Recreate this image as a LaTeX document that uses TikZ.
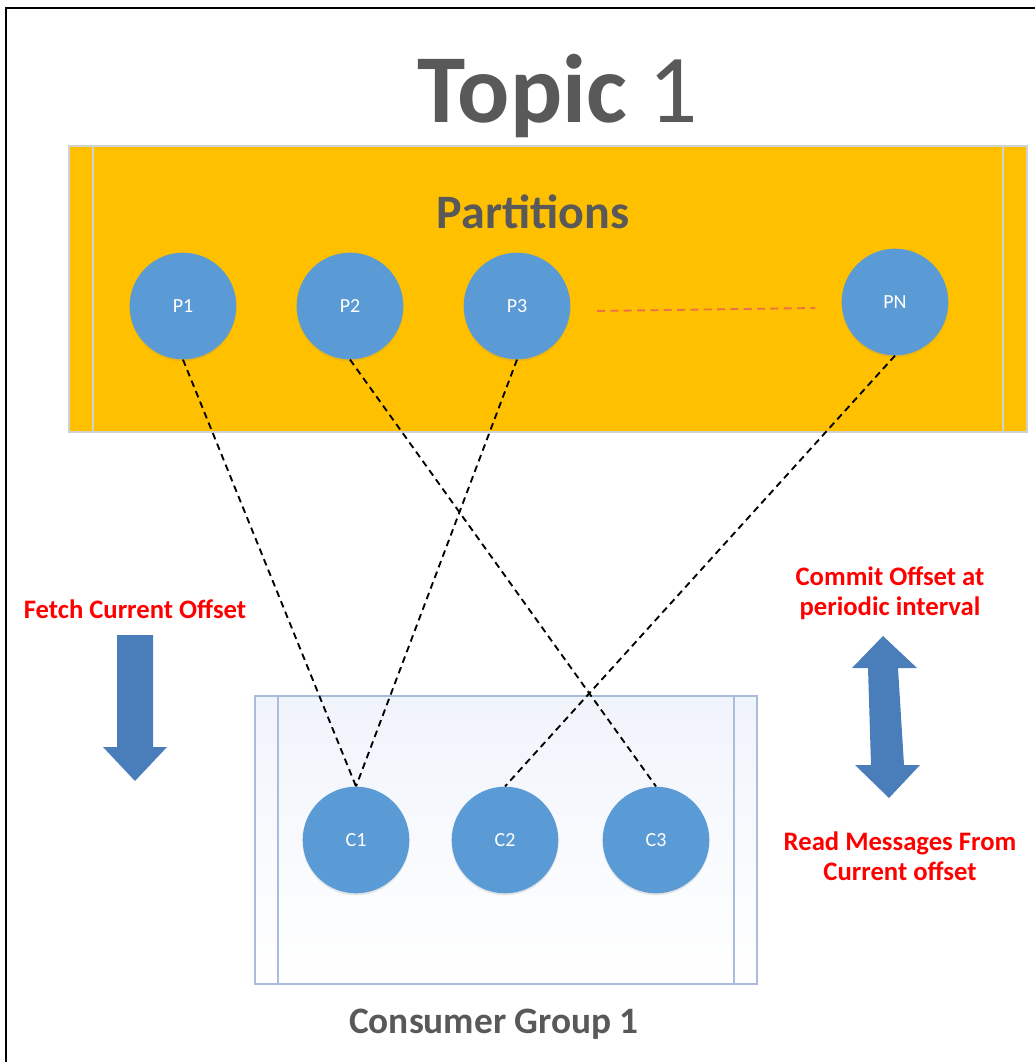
\documentclass[tikz,border=0pt]{standalone}
\usepackage{fontspec}
\setmainfont{Carlito}
\usetikzlibrary{shadows}
\definecolor{topicorange}{HTML}{FFC000}
\definecolor{circblue}{HTML}{5B9BD5}
\definecolor{arrowblue}{HTML}{4A7EBB}
\definecolor{titlegray}{HTML}{595959}
\definecolor{groupedge}{HTML}{A9BCD9}
\definecolor{groupfill}{HTML}{F0F4FB}
\definecolor{dotline}{HTML}{EE7046}
\begin{document}
\begin{tikzpicture}[x=0.75pt,y=-0.75pt,
    circ/.style={circle,fill=circblue,minimum size=80pt,inner sep=0pt,text=white,
        font=\fontsize{15}{16}\selectfont,
        drop shadow={opacity=0.18,shadow xshift=0pt,shadow yshift=-1.5pt}},
    link/.style={line width=1.4pt,dash pattern=on 5pt off 3.5pt},
    note/.style={text=red,font=\bfseries\fontsize{20}{22.5}\selectfont,align=center,inner sep=0pt,anchor=base},
    heading/.style={text=titlegray,inner sep=0pt,anchor=base}]
    \useasboundingbox (0,0) rectangle (1035,1062);
    % frame
    \draw[line width=2pt] (6,1062) -- (6,8) -- (1035,8);
    % topic
    \node[heading,font=\fontsize{73}{76}\selectfont] (title) at (558,123) {\textbf{Topic} 1};
    \draw[fill=topicorange,draw=black!18,line width=1pt] (69,146) rectangle (1027,432);
    \draw[black!18,line width=1pt] (93,146) -- (93,432) (1003,146) -- (1003,432);
    \node[heading,font=\bfseries\fontsize{36}{40}\selectfont] (partitions) at (533,229) {Partitions};
    \node[circ] (P1) at (183,306) {P1};
    \node[circ] (P2) at (350,306) {P2};
    \node[circ] (P3) at (517,306) {P3};
    \node[circ] (PN) at (895,302) {PN};
    \coordinate (dotA) at (597,311);
    \coordinate (dotB) at (815,308);
    \draw[dotline,line width=1.4pt,dash pattern=on 6pt off 4pt] (dotA) -- (dotB);
    % consumer group
    \draw[draw=groupedge,line width=1pt,top color=groupfill,bottom color=white] (255,696) rectangle (757,984);
    \draw[groupedge,line width=1pt] (278,696) -- (278,984) (734,696) -- (734,984);
    \node[circ] (C1) at (356,840) {C1};
    \node[circ] (C2) at (505,840) {C2};
    \node[circ] (C3) at (656,840) {C3};
    \node[heading,font=\bfseries\fontsize{28}{32}\selectfont] (group) at (494,1033) {Consumer Group 1};
    % assignments
    \draw[link] (P1.south) -- (C1.north);
    \draw[link] (P3.south) -- (C1.north);
    \draw[link] (P2.south) -- (C3.north);
    \draw[link] (PN.south) -- (C2.north);
    % offsets
    \node[note] (fetch) at (135,618) {Fetch Current Offset};
    \fill[arrowblue] (117,635) -- (153,635) -- (153,747) -- (167,747) -- (135,781) -- (103,747) -- (117,747) -- cycle;
    \node[note] (commit) at (890,615) {Commit Offset at\\periodic interval};
    \fill[arrowblue] (883,636) -- (917,668) -- (898,668) -- (904,765) -- (920,765) -- (889,798) -- (855,765) -- (871,765) -- (868,668) -- (852,668) -- cycle;
    \node[note] (read) at (900,880) {Read Messages From\\Current offset};
\end{tikzpicture}
\end{document}
